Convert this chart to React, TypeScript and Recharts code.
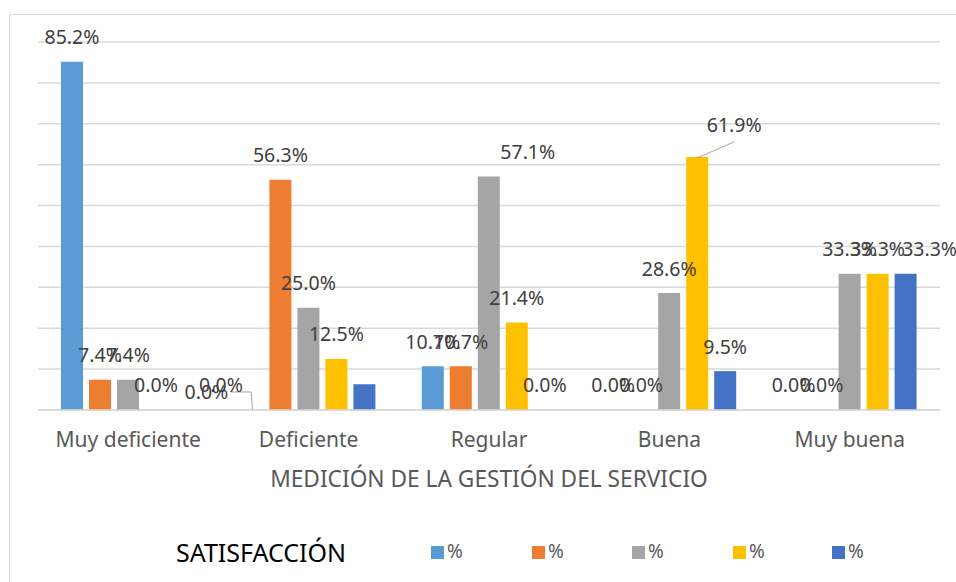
import { BarChart, Bar, XAxis, YAxis, CartesianGrid, LabelList } from 'recharts'

const categories = ['Muy deficiente', 'Deficiente', 'Regular', 'Buena', 'Muy buena']
const serie1 = [85.2, 0.0, 10.7, 0.0, 0.0]
const serie2 = [7.4, 56.3, 10.7, 0.0, 0.0]
const serie3 = [7.4, 25.0, 57.1, 28.6, 33.3]
const serie4 = [0.0, 12.5, 21.4, 61.9, 33.3]
const serie5 = [0.0, 6.3, 0.0, 9.5, 33.3]
const seriesNames = ['%', '%', '%', '%', '%']
const yTicks = [0, 10, 20, 30, 40, 50, 60, 70, 80, 90]

const COLORS = ['#5B9BD5', '#ED7D31', '#A5A5A5', '#FFC000', '#4472C4']
const FONT = '"Noto Sans", sans-serif'

const data = categories.map((name, i) => ({
  name,
  s0: serie1[i],
  s1: serie2[i],
  s2: serie3[i],
  s3: serie4[i],
  s4: serie5[i],
}))

// labels that were dragged by hand in the original sheet: [dx, dy, leader]
const moved: Record<string, [number, number, boolean]> = {
  's4-0': [37, 0, false],
  's0-1': [-46, 7, true],
  's2-2': [39, 0, false],
  's3-3': [37, -7, true],
  's4-4': [24, 0, false],
}
const hidden = new Set(['s4-1'])

function makeLabel(key: string) {
  return (props: any) => {
    const { x, y, width, value, index } = props
    const id = `${key}-${index}`
    if (hidden.has(id)) return null
    const [dx, dy, leader] = moved[id] || [0, 0, false]
    const cx = Number(x) + Number(width) / 2
    const top = Number(y)
    const lx = cx + dx
    const ly = top - 25 + dy
    let line = null
    if (leader && id === 's0-1') {
      line = <polyline points={`${lx + 24},${ly} ${cx - 1},${ly} ${cx},${top}`} fill="none" stroke="#A6A6A6" strokeWidth={1} />
    } else if (leader) {
      line = <line x1={cx} y1={top + 1} x2={lx} y2={ly + 17} stroke="#A6A6A6" strokeWidth={1} />
    }
    return (
      <g>
        {line}
        <text x={lx} y={ly} textAnchor="middle" dominantBaseline="central" fill="#404040" fontSize={19.5} fontFamily={FONT}>
          {Number(value).toFixed(1)}%
        </text>
      </g>
    )
  }
}

const legendX = [431, 532, 632, 733, 832]

function ChartLegend() {
  return (
    <div style={{ position: 'absolute', left: 0, top: 535, width: 956, height: 40, fontFamily: FONT }}>
      <span style={{ position: 'absolute', left: 176, top: 0, fontSize: 25, color: '#000' }}>SATISFACCIÓN</span>
      {legendX.map((lx, i) => (
        <span key={i}>
          <span style={{ position: 'absolute', left: lx, top: 11, width: 13, height: 13, background: COLORS[i] }} />
          <span style={{ position: 'absolute', left: lx + 16, top: 3, fontSize: 19, color: '#595959' }}>{seriesNames[i]}</span>
        </span>
      ))}
    </div>
  )
}

export default function App() {
  return (
    <div style={{ position: 'absolute', left: 0, top: 0, width: 956, height: 582, background: '#fff' }}>
      <div style={{ position: 'absolute', left: 9, top: 14, width: 960, height: 580, borderLeft: '1.5px solid #D9D9D9', borderTop: '1.5px solid #D9D9D9' }} />
      <BarChart
        width={956}
        height={582}
        data={data}
        margin={{ top: 42, right: 16, left: 38, bottom: 0 }}
        barCategoryGap={23}
        barGap={6}
      >
        <CartesianGrid vertical={false} stroke="#D9D9D9" strokeWidth={1.5} />
        <XAxis
          dataKey="name"
          height={172}
          tickLine={false}
          axisLine={{ stroke: '#D9D9D9', strokeWidth: 1.5 }}
          tickSize={0}
          tickMargin={22}
          tick={{ fill: '#595959', fontSize: 21, fontFamily: FONT }}
          label={{ value: 'MEDICIÓN DE LA GESTIÓN DEL SERVICIO', position: 'insideTop', offset: 61, fill: '#595959', fontSize: 22.7, fontFamily: FONT }}
        />
        <YAxis hide domain={[0, 90]} ticks={yTicks} />
        {['s0', 's1', 's2', 's3', 's4'].map((k, i) => (
          <Bar key={k} dataKey={k} name={seriesNames[i]} fill={COLORS[i]} minPointSize={0.01} isAnimationActive={false}>
            <LabelList dataKey={k} content={makeLabel(k)} />
          </Bar>
        ))}
      </BarChart>
      <ChartLegend />
    </div>
  )
}
